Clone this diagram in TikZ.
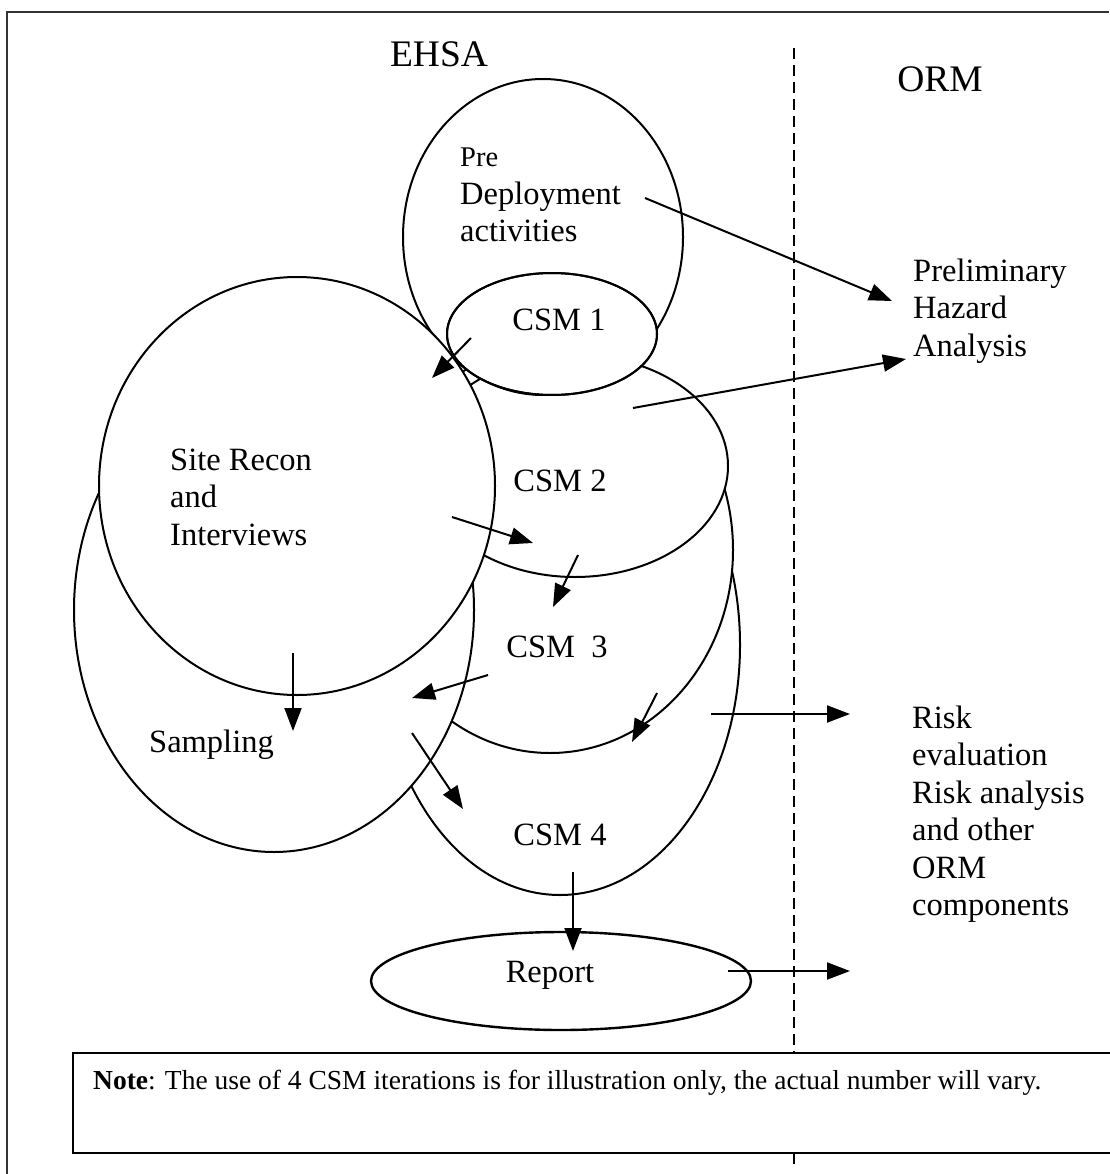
\documentclass[tikz,border=0pt]{standalone}
\usepackage{fontspec}
\setmainfont{Liberation Serif}
\usetikzlibrary{shapes.geometric,arrows.meta}
\tikzset{
  blob/.style={ellipse, draw, fill=white, line width=2pt, inner sep=0pt},
  flow/.style={line width=2pt, -{Triangle[length=23pt,width=17pt]}},
  lbl/.style={inner sep=0pt, font=\fontsize{32.5}{37.5}\selectfont, align=left},
}
\begin{document}
\begin{tikzpicture}[x=1pt,y=-1pt]
    \useasboundingbox (0,0) rectangle (1109,1174);
    % frame and EHSA / ORM divider
    \draw[line width=1.8pt, black!80] (7,1174) -- (7,12) -- (1109,12);
    \draw[line width=2pt, dash pattern=on 11pt off 6pt] (794,48) -- (794,1168);
    % ellipses, back to front
    \node[blob, minimum width=360, minimum height=500] (csmfour) at (560,645) {};
    \node[blob, minimum width=366, minimum height=406] (csmthree) at (550,550) {};
    \node[blob, minimum width=306, minimum height=222] (csmtwo) at (575,466) {};
    \node[blob, minimum width=280, minimum height=316] (pre) at (543,237) {};
    \node[blob, minimum width=210, minimum height=122] (csmone) at (552,334) {};
    \node[blob, minimum width=400, minimum height=484] (sampling) at (274,610) {};
    \node[blob, minimum width=396, minimum height=418] (siterecon) at (297,486) {};
    \node[ellipse, draw, line width=2pt, inner sep=0pt, minimum width=210, minimum height=122] (csmoneline) at (csmone) {};
    \node[blob, line width=2.4pt, minimum width=380, minimum height=98] (report) at (561,981) {};
    \node[draw, fill=white, line width=2.2pt, anchor=north west, inner sep=0pt,
          minimum width=1060, minimum height=100] (notebox) at (72,1052) {};
    % labels
    \node[lbl, anchor=base] (ehsa) at (439,67) {\fontsize{37.5}{40}\selectfont EHSA};
    \node[lbl, anchor=base] (orm) at (940,92) {\fontsize{37.5}{40}\selectfont ORM};
    \node[lbl, anchor=west] (predep) at (460,195) {{\fontsize{28.5}{37.5}\selectfont Pre}\\Deployment\\activities};
    \node[lbl, anchor=base] (csmonetxt) at (559,330) {CSM 1};
    \node[lbl, anchor=west] (pha) at (913,311) {Preliminary\\Hazard\\Analysis};
    \node[lbl, anchor=west] (sitetxt) at (170,497) {Site Recon\\and\\Interviews};
    \node[lbl, anchor=base] (csmtwotxt) at (560,491) {CSM 2};
    \node[lbl, anchor=base] (csmthreetxt) at (557,657) {CSM\ \ 3};
    \node[lbl, anchor=base west] (samptxt) at (149,752) {Sampling};
    \node[lbl, anchor=base] (csmfourtxt) at (560,845) {CSM 4};
    \node[lbl, anchor=base] (reporttxt) at (550,982) {Report};
    \node[lbl, anchor=west] (risk) at (912,814) {Risk\\evaluation\\Risk analysis\\and other\\ORM\\components};
    \node[lbl, anchor=base west, font=\fontsize{27.5}{33}\selectfont] (note) at (93,1089)
        {\textbf{Note}: The use of 4 CSM iterations is for illustration only, the actual number will vary.};
    % arrow end points
    \coordinate (preout) at (645,198);
    \coordinate (phain) at (892,301);
    \coordinate (csmoneout) at (471,338);
    \coordinate (sitein) at (432,378);
    \coordinate (csmtwoout) at (633,408);
    \coordinate (phainb) at (906,359);
    \coordinate (siteout) at (452,517);
    \coordinate (csmtwoin) at (533,543);
    \coordinate (csmtwodown) at (578,555);
    \coordinate (csmthreein) at (553,607);
    \coordinate (csmthreeout) at (488,675);
    \coordinate (sampin) at (412,698);
    \coordinate (sitedown) at (293,653);
    \coordinate (samptop) at (293,731);
    \coordinate (sampout) at (412,733);
    \coordinate (csmfourin) at (463,809);
    \coordinate (csmthreeedge) at (657,693);
    \coordinate (csmthreetip) at (632,742);
    \coordinate (csmfourout) at (711,714);
    \coordinate (riskin) at (850,714);
    \coordinate (csmfourdown) at (573,872);
    \coordinate (reportin) at (573,951);
    \coordinate (reportout) at (728,971);
    \coordinate (ormin) at (850,971);
    % arrows
    \draw[flow] (preout) -- (phain);
    \draw[flow] (csmoneout) -- (sitein);
    \draw[flow] (csmtwoout) -- (phainb);
    \draw[flow] (siteout) -- (csmtwoin);
    \draw[flow] (csmtwodown) -- (csmthreein);
    \draw[flow] (csmthreeout) -- (sampin);
    \draw[flow] (sitedown) -- (samptop);
    \draw[flow] (sampout) -- (csmfourin);
    \draw[flow] (csmthreeedge) -- (csmthreetip);
    \draw[flow] (csmfourout) -- (riskin);
    \draw[flow] (csmfourdown) -- (reportin);
    \draw[flow] (reportout) -- (ormin);
\end{tikzpicture}
\end{document}
